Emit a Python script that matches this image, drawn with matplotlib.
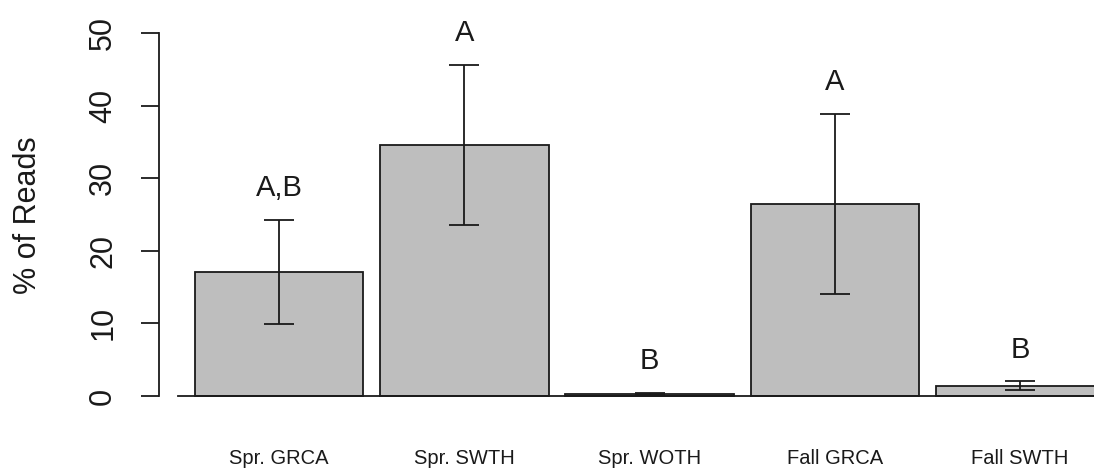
import matplotlib
matplotlib.use("Agg")
import matplotlib.pyplot as plt

categories = ["Spr. GRCA", "Spr. SWTH", "Spr. WOTH", "Fall GRCA", "Fall SWTH"]
means = [17.1, 34.6, 0.3, 26.5, 1.4]
errors = [7.2, 11.0, 0.15, 12.4, 0.6]
letters = ["A,B", "A", "B", "A", "B"]
yticks = [0, 10, 20, 30, 40, 50]

plt.rcParams['font.family'] = ['Liberation Sans', 'DejaVu Sans']

W, H = 1094, 468
fig = plt.figure(figsize=(W / 100, H / 100), dpi=100)
ax = fig.add_axes([158.5 / W, (H - 410.5) / H, (1140.6 - 158.5) / W, 392 / H])

space = 0.1
centers = [space + 0.5 + i * (1 + space) for i in range(len(categories))]
ax.bar(centers, means, width=1.0, color="#bebebe", edgecolor="#1a1a1a",
       linewidth=1.3, zorder=2)
ax.errorbar(centers, means, yerr=errors, fmt="none", ecolor="#1a1a1a",
            elinewidth=1.3, capsize=11, capthick=1.3, zorder=3)

for c, m, e, lab in zip(centers, means, errors, letters):
    ax.text(c, m + e + 4.4, lab, ha="center", va="center", fontsize=21,
            color="#1a1a1a", zorder=4)

xmin, xmax = -0.116, 5.716
ax.set_xlim(xmin, xmax)
ax.set_ylim(-2, 52)

ax.plot([0, xmax], [0, 0], color="#1a1a1a", linewidth=1.3, clip_on=False, zorder=5)

for s in ["top", "right", "bottom"]:
    ax.spines[s].set_visible(False)
ax.spines["left"].set_bounds(0, 50)
ax.spines["left"].set_linewidth(1.3)
ax.spines["left"].set_color("#1a1a1a")

ax.set_yticks(yticks)
ax.set_yticklabels([str(t) for t in yticks], rotation=90, va="center",
                   fontsize=22, color="#1a1a1a")
ax.tick_params(axis="y", length=13, width=1.3, pad=16, color="#1a1a1a")

ax.set_xticks(centers)
ax.set_xticklabels(categories, fontsize=14.5, color="#1a1a1a")
ax.tick_params(axis="x", length=0, pad=28)

fig.text(28 / W, (H - 215) / H, "% of Reads", rotation=90, ha="center",
         va="center", fontsize=22, color="#1a1a1a")

fig.savefig("out.png", dpi=100)
